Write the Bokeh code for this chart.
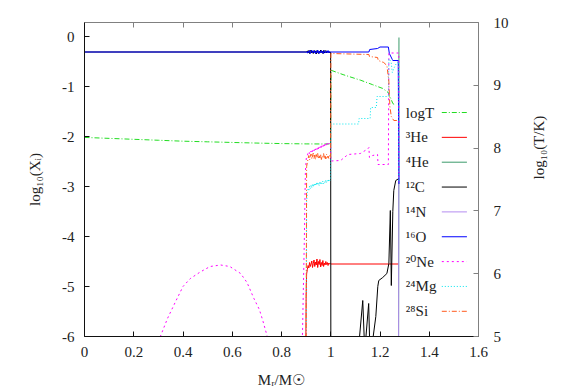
import math
from bokeh.plotting import figure
from bokeh.models import Range1d, LinearAxis, FixedTicker, CustomJSTickFormatter, Label, Arrow
from bokeh.embed import file_html
from bokeh.resources import INLINE

# ---------------- data ----------------
x_ticks = [0.0, 0.2, 0.4, 0.6, 0.8, 1.0, 1.2, 1.4, 1.6]
y_ticks = [-6, -5, -4, -3, -2, -1, 0]
t_ticks = [5, 6, 7, 8, 9, 10]

legend_labels = ["logT", "³He", "⁴He", "¹²C", "¹⁴N", "¹⁶O", "²⁰Ne", "²⁴Mg", "²⁸Si"]

noise_x = [0.905, 0.908, 0.911, 0.914, 0.917, 0.920, 0.923, 0.926, 0.929, 0.932, 0.935,
           0.938, 0.941, 0.944, 0.947, 0.950, 0.953, 0.956, 0.959, 0.962, 0.965, 0.968,
           0.971, 0.974, 0.977, 0.980, 0.983, 0.986, 0.989, 0.992, 0.995, 0.998]

logT_x = [0.0, 0.1, 0.2, 0.3, 0.4, 0.5, 0.6, 0.7, 0.8, 0.9, 0.999, 1.001,
          1.05, 1.122, 1.17, 1.211, 1.232, 1.245, 1.252, 1.264]
logT_y = [8.17, 8.155, 8.14, 8.125, 8.11, 8.10, 8.09, 8.08, 8.072, 8.067, 8.065, 9.24,
          9.17, 9.08, 9.01, 8.95, 8.89, 8.78, 8.71, 8.68]

he3_noise = [-4.66, -4.58, -4.63, -4.52, -4.60, -4.55, -4.49, -4.62,
             -4.54, -4.47, -4.60, -4.51, -4.57, -4.45, -4.62, -4.50,
             -4.56, -4.46, -4.61, -4.52, -4.58, -4.48, -4.60, -4.53,
             -4.57, -4.50, -4.56, -4.52, -4.58, -4.53, -4.55, -4.54]
he3_x = [0.0, 0.897, 0.900, 0.902] + noise_x + [1.0, 1.277]
he3_y = [-8, -8, -5.2, -4.75] + he3_noise + [-4.55, -4.55]

he4_x = [0.0, 1.275, 1.277]
he4_y = [-8, -8, -0.02]

c12_noise = [-0.29, -0.33, -0.28, -0.34, -0.30, -0.27, -0.33, -0.29,
             -0.34, -0.28, -0.32, -0.29, -0.35, -0.28, -0.32, -0.34,
             -0.29, -0.33, -0.27, -0.32, -0.29, -0.34, -0.28, -0.33,
             -0.30, -0.28, -0.33, -0.29, -0.32, -0.30, -0.33, -0.31]
c12_x = [0.0, 0.9] + noise_x + [0.9995, 1.0005, 1.108, 1.130, 1.138, 1.154, 1.159, 1.167,
                                1.183, 1.191, 1.195, 1.211, 1.228, 1.236, 1.242, 1.246,
                                1.252, 1.256, 1.264, 1.277]
c12_y = [-0.31, -0.31] + c12_noise + [-0.31, -7.0, -6.5, -5.28, -6.3, -5.34, -6.3, -6.2,
                                      -5.6, -5.0, -4.88, -4.82, -4.74, -4.54, -3.48, -4.98,
                                      -3.5, -3.08, -2.88, -2.84]

n14_x = [0.0, 1.275, 1.277]
n14_y = [-8, -8, -1.0]

o16_noise = [-0.33, -0.29, -0.32, -0.28, -0.34, -0.30, -0.27, -0.33,
             -0.29, -0.32, -0.28, -0.34, -0.30, -0.33, -0.27, -0.31,
             -0.34, -0.29, -0.32, -0.28, -0.33, -0.30, -0.34, -0.28,
             -0.31, -0.33, -0.29, -0.32, -0.28, -0.33, -0.30, -0.31]
o16_x = [0.0, 0.9] + noise_x + [1.0, 1.155, 1.158, 1.19, 1.20, 1.234, 1.238, 1.25, 1.252, 1.274, 1.277]
o16_y = [-0.31, -0.31] + o16_noise + [-0.31, -0.31, -0.26, -0.24, -0.21, -0.21, -0.34, -0.46, -0.48, -0.48, -2.95]

ne20_noise = [-2.38, -2.33, -2.30, -2.34, -2.28, -2.31, -2.26, -2.30,
              -2.25, -2.29, -2.23, -2.27, -2.22, -2.26, -2.21, -2.25,
              -2.19, -2.23, -2.18, -2.22, -2.17, -2.21, -2.16, -2.20,
              -2.15, -2.19, -2.14, -2.18, -2.13, -2.17, -2.14, -2.15]
ne20_x = [0.30, 0.337, 0.37, 0.40, 0.43, 0.47, 0.51, 0.553, 0.59, 0.634, 0.66, 0.688, 0.71,
          0.724, 0.745, 0.76, 0.87, 0.885, 0.893, 0.897, 0.901] + noise_x + \
         [0.9995, 1.0005, 1.04, 1.07, 1.12, 1.15, 1.155, 1.157, 1.17, 1.19, 1.192, 1.234,
          1.236, 1.276, 1.277]
ne20_y = [-6.1, -5.64, -5.3, -5.0, -4.84, -4.71, -4.6, -4.57, -4.6, -4.74, -4.92, -5.24, -5.46,
          -5.68, -6.05, -7, -7, -6.0, -4.0, -2.7, -2.42] + ne20_noise + \
         [-2.14, -2.49, -2.48, -2.36, -2.34, -2.25, -2.22, -2.42, -2.38, -2.36, -2.56, -2.56,
          -0.33, -0.33, -2.9]

mg24_noise = [-3.12, -3.05, -3.08, -2.99, -3.04, -2.97, -3.02, -2.95,
              -3.01, -2.94, -2.99, -2.93, -2.98, -2.91, -2.97, -2.93,
              -2.98, -2.90, -2.96, -2.91, -2.95, -2.89, -2.94, -2.90,
              -2.93, -2.87, -2.92, -2.88, -2.91, -2.86, -2.89, -2.87]
mg24_x = [0.0, 0.899, 0.902] + noise_x + [0.9995, 1.0005, 1.113, 1.115, 1.160, 1.162, 1.185,
                                        1.188, 1.234, 1.236, 1.245, 1.25, 1.258, 1.265, 1.276, 1.277]
mg24_y = [-8, -8, -3.3] + mg24_noise + [-2.86, -1.75, -1.75, -1.64, -1.64, -1.42, -1.42,
                                      -1.2, -1.2, -0.45, -0.5, -0.72, -0.62, -0.55, -0.5, -2.9]

si28_noise = [-2.52, -2.44, -2.38, -2.47, -2.40, -2.35, -2.45, -2.39,
              -2.33, -2.44, -2.37, -2.46, -2.36, -2.42, -2.34, -2.45,
              -2.38, -2.43, -2.35, -2.46, -2.39, -2.41, -2.34, -2.44,
              -2.37, -2.45, -2.36, -2.42, -2.39, -2.44, -2.38, -2.42]
si28_x = [0.0, 0.899, 0.902] + noise_x + [0.9995, 1.0005, 1.155, 1.157, 1.19, 1.193, 1.215,
                                        1.228, 1.236, 1.24, 1.246, 1.256, 1.276]
si28_y = [-8, -8, -2.6] + si28_noise + [-2.42, -0.34, -0.36, -0.40, -0.42, -0.48, -0.52,
                                      -0.58, -0.9, -1.4, -1.6, -1.68, -1.68]

# ---------------- styles ----------------
FONT = "Liberation Serif, DejaVu Serif"
FS = "15px"
series = [
    (logT_x, logT_y, "#22dd22", "5 2 1 2", "T"),
    (he3_x, he3_y, "#ff0000", "solid", None),
    (he4_x, he4_y, "#3a9a6a", "solid", None),
    (c12_x, c12_y, "#000000", "solid", None),
    (n14_x, n14_y, "#b48cf0", "solid", None),
    (o16_x, o16_y, "#0000ff", "solid", None),
    (ne20_x, ne20_y, "#ff00ff", "2 3", None),
    (mg24_x, mg24_y, "#00e5ee", "1 2", None),
    (si28_x, si28_y, "#ff5a1e", "5 2 1 2", None),
]

p = figure(frame_width=394, frame_height=314, output_backend="svg", toolbar_location=None,
           x_range=Range1d(0, 1.6), y_range=Range1d(-6, 0.28),
           min_border_left=84, min_border_right=84, min_border_top=22, min_border_bottom=50)
p.extra_y_ranges = {"T": Range1d(5, 10)}
p.outline_line_color = None
p.xgrid.visible = False
p.ygrid.visible = False
p.background_fill_color = "white"
p.border_fill_color = "white"

fmt = CustomJSTickFormatter(code="return String(Math.round(tick*10)/10)")
blank_fmt = CustomJSTickFormatter(code="return ''")


def style_axis(ax, line_color):
    ax.axis_line_color = line_color
    ax.axis_line_width = 1
    ax.major_tick_line_color = line_color
    ax.major_tick_in = 5
    ax.major_tick_out = 0
    ax.minor_tick_line_color = None
    ax.major_label_text_font = FONT
    ax.major_label_text_font_size = FS
    ax.major_label_text_color = "#222222"
    ax.axis_label_text_font = FONT
    ax.axis_label_text_font_size = FS
    ax.axis_label_text_font_style = "normal"
    ax.axis_label_text_color = "#222222"
    ax.formatter = fmt


xa = p.xaxis[0]
style_axis(xa, "#111111")
xa.ticker = FixedTicker(ticks=x_ticks)
xa.axis_label = "Mᵣ/M☉"
xa.major_label_standoff = 10
xa.axis_label_standoff = 12

ya = p.yaxis[0]
style_axis(ya, "#111111")
ya.ticker = FixedTicker(ticks=y_ticks)
ya.axis_label = "log₁₀(Xᵢ)"
ya.major_label_standoff = 10
ya.axis_label_standoff = 16

ra = LinearAxis(y_range_name="T")
style_axis(ra, "#808080")
ra.ticker = FixedTicker(ticks=t_ticks)
ra.major_label_standoff = 15
ra.axis_label = "log₁₀(T/K)"
ra.axis_label_standoff = 27
if "axis_label_orientation" in LinearAxis.properties():
    ra.axis_label_orientation = math.pi / 2
p.add_layout(ra, "right")

ta = LinearAxis()
style_axis(ta, "#808080")
ta.ticker = FixedTicker(ticks=x_ticks)
ta.formatter = blank_fmt
ta.major_label_standoff = 0
p.add_layout(ta, "above")

for xs, ys, color, dash, rng in series:
    kw = dict(line_color=color, line_width=1, line_dash=dash)
    if rng:
        kw["y_range_name"] = rng
    p.line(xs, ys, **kw)

# custom gnuplot-style key: label first, then line sample
key_text_x = 1.305
key_line_x0 = 1.451
key_line_x1 = 1.553
key_top = -1.52
key_step = 0.497
for i, (lab, (xs, ys, color, dash, rng)) in enumerate(zip(legend_labels, series)):
    yy = key_top - i * key_step
    p.add_layout(Label(x=key_text_x, y=yy, text=lab, text_font=FONT, text_font_size=FS,
                       text_baseline="middle", text_color="#222222"))
    p.add_layout(Arrow(x_start=key_line_x0, y_start=yy, x_end=key_line_x1, y_end=yy,
                       start=None, end=None, line_color=color, line_width=1, line_dash=dash))

open("out.html", "w").write(file_html(p, INLINE))
